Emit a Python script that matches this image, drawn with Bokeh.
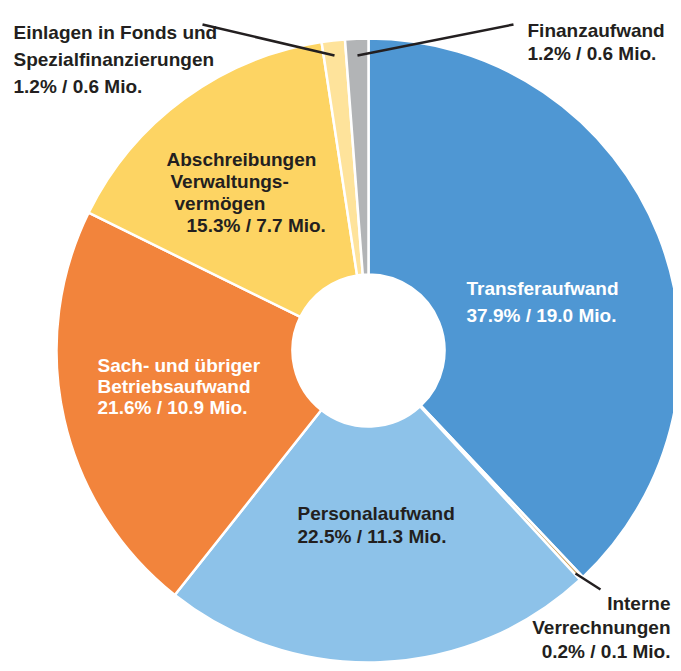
import math
from bokeh.plotting import figure
from bokeh.models import ColumnDataSource, Range1d
from bokeh.core.properties import value
from bokeh.embed import file_html
from bokeh.resources import INLINE

# ---- data ----
categories = ["Transferaufwand", "Interne Verrechnungen", "Personalaufwand",
              "Sach- und übriger Betriebsaufwand", "Abschreibungen Verwaltungsvermögen",
              "Einlagen in Fonds und Spezialfinanzierungen", "Finanzaufwand"]
percent = [37.9, 0.2, 22.5, 21.6, 15.3, 1.2, 1.2]
mio = [19.0, 0.1, 11.3, 10.9, 7.7, 0.6, 0.6]
colors = ["#4f97d3", "#d2a866", "#8dc2e9", "#f2843c", "#fdd463", "#fee39b", "#b2b4b6"]

# label line breaks per category
name_lines = [
    ["Transferaufwand"],
    ["Interne", "Verrechnungen"],
    ["Personalaufwand"],
    ["Sach- und übriger", "Betriebsaufwand"],
    ["Abschreibungen", "Verwaltungs-", "vermögen"],
    ["Einlagen in Fonds und", "Spezialfinanzierungen"],
    ["Finanzaufwand"],
]

W, H = 673, 663
def Y(py):  # picture y -> data y
    return 671 - py

p = figure(width=W, height=H, output_backend="svg", toolbar_location=None,
           x_range=Range1d(0, 673), y_range=Range1d(8, 671), min_border=0)
p.axis.visible = False
p.grid.visible = False
p.outline_line_color = None
p.background_fill_color = "white"
p.border_fill_color = "white"

cx, cy = 368, Y(350)
total = sum(percent)
starts, ends = [], []
acc = 0.0
for v in percent:
    starts.append(math.pi / 2 - 2 * math.pi * acc / total)
    acc += v
    ends.append(math.pi / 2 - 2 * math.pi * acc / total)

src = ColumnDataSource(dict(start=starts, end=ends, color=colors, cat=categories))
p.annular_wedge(x=cx, y=cy, inner_radius=76, outer_radius=312,
                start_angle="start", end_angle="end", direction="clock",
                fill_color="color", line_color="white", line_width=2.5, source=src)

# leader lines (picture coords)
leaders = [((202, 24), (334, 55)), ((513, 24), (357, 55)), ((575, 573), (600, 589))]
for (x0, y0), (x1, y1) in leaders:
    p.line([x0, x1], [Y(y0), Y(y1)], line_color="#231f20", line_width=2.5)

dark = "#231f20"
# label placements: (category index, x, first baseline, line spacing, color, per-line x offsets, align)
placements = [
    (0, 466, 288, 27, "white", None, "left"),
    (2, 297, 513, 23, dark, None, "left"),
    (3, 97, 365, 21, "white", None, "left"),
    (4, 166, 159, 22, dark, [0, 4, 8, 20], "left"),
    (5, 13, 32, 27, dark, None, "left"),
    (6, 527, 30, 23, dark, None, "left"),
    (1, 670, 603, 24, dark, None, "right"),
]
tx, ty, tt, tc, ta = [], [], [], [], []
for idx, x, b, sp, col, offs, al in placements:
    lines = name_lines[idx] + ["%.1f%% / %.1f Mio." % (percent[idx], mio[idx])]
    for k, s in enumerate(lines):
        tx.append(x + (offs[k] if offs else 0))
        ty.append(Y(b + k * sp))
        tt.append(s)
        tc.append(col)
        ta.append(al)

tsrc = ColumnDataSource(dict(x=tx, y=ty, text=tt, color=tc, align=ta))
p.text(x="x", y="y", text="text", text_color="color", source=tsrc,
       text_font=value("Liberation Sans"), text_font_style="bold",
       text_font_size="19px", text_align="align", text_baseline="alphabetic")

open("out.html", "w").write(file_html(p, INLINE))
